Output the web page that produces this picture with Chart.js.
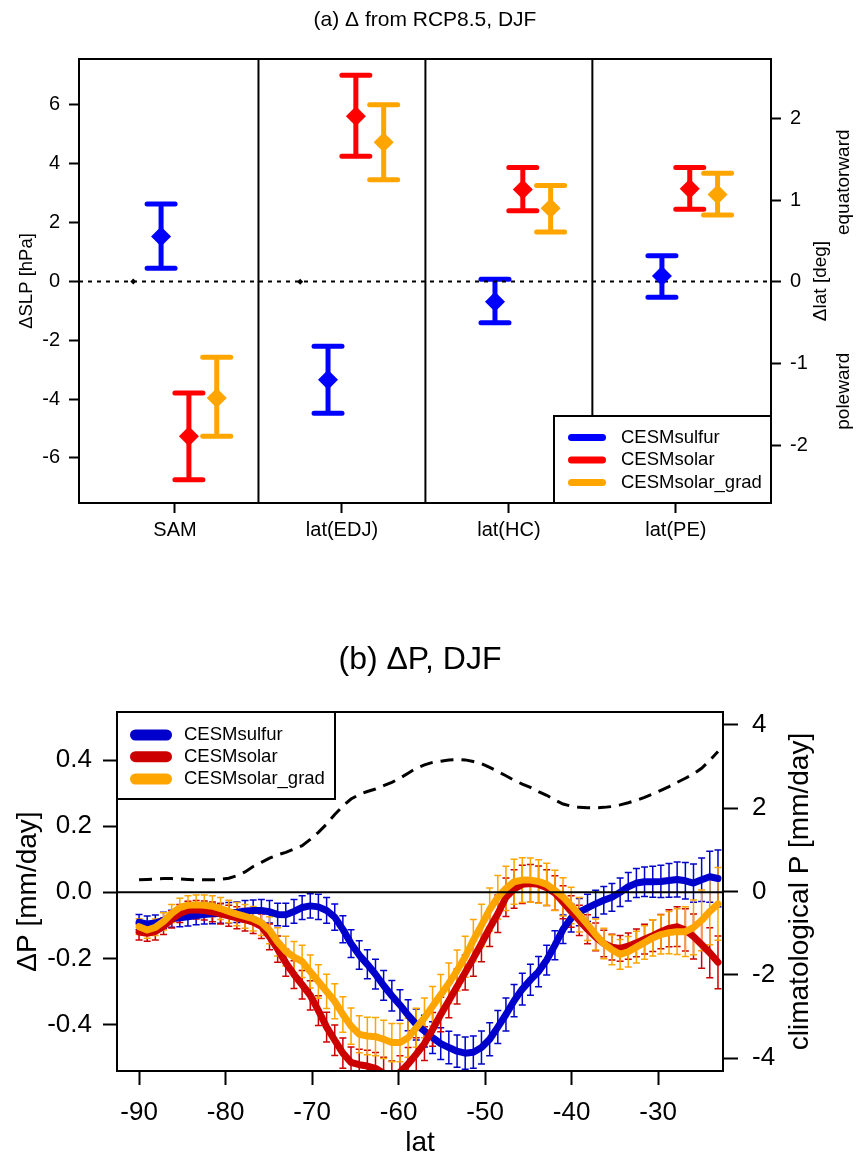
<!DOCTYPE html>
<html lang="en">
<head>
<meta charset="UTF-8">
<title>Delta from RCP8.5, DJF</title>
<script src="https://cdn.jsdelivr.net/npm/chart.js"></script>
<style>
  body { margin: 0; background: #fff; }
  #wrap { position: relative; width: 860px; height: 1157px; }
  canvas { position: absolute; left: 0; }
</style>
</head>
<body>
<div id="wrap">
  <canvas id="chartA" width="860" height="560" style="top:0"></canvas>
  <canvas id="chartB" width="860" height="597" style="top:560px"></canvas>
</div>
<script>
// ---------- panel (a) ----------
const groups = ['SAM', 'lat(EDJ)', 'lat(HC)', 'lat(PE)'];
const seriesNames = ['CESMsulfur', 'CESMsolar', 'CESMsolar_grad'];
// SAM in hPa (left axis), the lat() groups in deg (right axis)
const sulfurMid = [1.53, -1.20, -0.245, 0.07];
const sulfurLo  = [0.45, -1.61, -0.50, -0.19];
const sulfurHi  = [2.63, -0.79, 0.03, 0.32];
const solarMid  = [-5.26, 2.03, 1.13, 1.14];
const solarLo   = [-6.74, 1.54, 0.87, 0.89];
const solarHi   = [-3.79, 2.53, 1.40, 1.40];
const gradMid   = [-3.96, 1.71, 0.90, 1.07];
const gradLo    = [-5.26, 1.25, 0.61, 0.82];
const gradHi    = [-2.58, 2.17, 1.18, 1.33];
const refMid    = [0, 0, null, null];
const slpTicks = [-6, -4, -2, 0, 2, 4, 6];
const dlatTicks = [-2, -1, 0, 1, 2];

// ---------- panel (b) ----------
const lat = [
  -90.00, -89.06, -88.12, -87.17, -86.23, -85.29, -84.35, -83.40, -82.46, -81.52,
  -80.58, -79.63, -78.69, -77.75, -76.81, -75.86, -74.92, -73.98, -73.04, -72.09,
  -71.15, -70.21, -69.27, -68.32, -67.38, -66.44, -65.50, -64.55, -63.61, -62.67,
  -61.73, -60.78, -59.84, -58.90, -57.96, -57.01, -56.07, -55.13, -54.19, -53.24,
  -52.30, -51.36, -50.42, -49.47, -48.53, -47.59, -46.65, -45.70, -44.76, -43.82,
  -42.88, -41.93, -40.99, -40.05, -39.11, -38.16, -37.22, -36.28, -35.34, -34.39,
  -33.45, -32.51, -31.57, -30.62, -29.68, -28.74, -27.80, -26.85, -25.91, -24.97,
  -24.03, -23.08
];
const sulfurP = [
  -0.090, -0.096, -0.093, -0.085, -0.080, -0.077, -0.074, -0.070, -0.067, -0.065,
  -0.064, -0.062, -0.060, -0.057, -0.055, -0.055, -0.059, -0.067, -0.068, -0.058,
  -0.046, -0.041, -0.044, -0.055, -0.075, -0.112, -0.155, -0.190, -0.218, -0.248,
  -0.282, -0.313, -0.341, -0.372, -0.400, -0.420, -0.440, -0.458, -0.470, -0.481,
  -0.487, -0.484, -0.470, -0.445, -0.408, -0.370, -0.328, -0.293, -0.265, -0.240,
  -0.205, -0.160, -0.112, -0.078, -0.060, -0.047, -0.035, -0.024, -0.015, 0.000,
  0.017, 0.028, 0.032, 0.032, 0.033, 0.036, 0.039, 0.035, 0.028, 0.038,
  0.047, 0.042
];
const sulfurErr = [
  0.023, 0.024, 0.024, 0.025, 0.026, 0.027, 0.028, 0.028, 0.029, 0.030,
  0.030, 0.031, 0.031, 0.032, 0.032, 0.033, 0.034, 0.034, 0.035, 0.036,
  0.036, 0.037, 0.038, 0.039, 0.040, 0.041, 0.042, 0.043, 0.044, 0.045,
  0.045, 0.046, 0.046, 0.047, 0.047, 0.048, 0.048, 0.048, 0.049, 0.049,
  0.049, 0.049, 0.050, 0.050, 0.050, 0.050, 0.049, 0.048, 0.047, 0.046,
  0.045, 0.044, 0.043, 0.042, 0.041, 0.041, 0.041, 0.042, 0.042, 0.043,
  0.043, 0.044, 0.045, 0.047, 0.049, 0.051, 0.053, 0.055, 0.058, 0.066,
  0.077, 0.086
];
const solarP = [
  -0.120, -0.124, -0.119, -0.103, -0.082, -0.064, -0.054, -0.053, -0.055, -0.059,
  -0.065, -0.071, -0.077, -0.083, -0.090, -0.103, -0.135, -0.172, -0.213, -0.249,
  -0.280, -0.312, -0.358, -0.408, -0.448, -0.487, -0.515, -0.522, -0.526, -0.533,
  -0.548, -0.560, -0.545, -0.520, -0.490, -0.458, -0.415, -0.370, -0.328, -0.285,
  -0.243, -0.200, -0.155, -0.108, -0.065, -0.015, 0.010, 0.024, 0.027, 0.024,
  0.014, -0.002, -0.030, -0.058, -0.085, -0.112, -0.135, -0.155, -0.166, -0.170,
  -0.163, -0.153, -0.142, -0.131, -0.119, -0.109, -0.104, -0.114, -0.134, -0.158,
  -0.183, -0.212
];
const solarErr = [
  0.024, 0.024, 0.025, 0.025, 0.026, 0.027, 0.027, 0.028, 0.029, 0.030,
  0.031, 0.032, 0.033, 0.034, 0.035, 0.037, 0.039, 0.040, 0.041, 0.042,
  0.043, 0.044, 0.045, 0.045, 0.046, 0.046, 0.047, 0.047, 0.048, 0.048,
  0.049, 0.049, 0.050, 0.050, 0.050, 0.051, 0.051, 0.052, 0.052, 0.053,
  0.053, 0.054, 0.055, 0.056, 0.057, 0.058, 0.058, 0.058, 0.057, 0.056,
  0.054, 0.052, 0.050, 0.048, 0.046, 0.044, 0.042, 0.040, 0.039, 0.039,
  0.040, 0.042, 0.045, 0.048, 0.052, 0.056, 0.060, 0.064, 0.068, 0.072,
  0.076, 0.080
];
const gradP = [
  -0.104, -0.114, -0.106, -0.088, -0.064, -0.046, -0.039, -0.038, -0.039, -0.042,
  -0.049, -0.058, -0.066, -0.073, -0.080, -0.092, -0.115, -0.150, -0.178, -0.196,
  -0.209, -0.240, -0.270, -0.300, -0.330, -0.370, -0.405, -0.430, -0.435, -0.437,
  -0.445, -0.455, -0.455, -0.440, -0.410, -0.380, -0.345, -0.310, -0.275, -0.237,
  -0.195, -0.145, -0.100, -0.052, -0.015, 0.012, 0.032, 0.037, 0.037, 0.033,
  0.024, 0.006, -0.014, -0.040, -0.068, -0.097, -0.128, -0.155, -0.174, -0.188,
  -0.180, -0.166, -0.152, -0.138, -0.128, -0.122, -0.119, -0.119, -0.106, -0.085,
  -0.058, -0.035
];
const gradErr = [
  0.024, 0.025, 0.025, 0.026, 0.027, 0.028, 0.029, 0.030, 0.031, 0.032,
  0.033, 0.034, 0.035, 0.036, 0.037, 0.039, 0.041, 0.043, 0.045, 0.047,
  0.049, 0.050, 0.051, 0.052, 0.053, 0.054, 0.055, 0.056, 0.057, 0.058,
  0.058, 0.058, 0.058, 0.059, 0.059, 0.060, 0.060, 0.061, 0.061, 0.062,
  0.062, 0.063, 0.064, 0.065, 0.066, 0.067, 0.068, 0.068, 0.067, 0.066,
  0.064, 0.061, 0.058, 0.055, 0.052, 0.049, 0.047, 0.046, 0.045, 0.045,
  0.046, 0.048, 0.051, 0.055, 0.059, 0.064, 0.069, 0.075, 0.083, 0.092,
  0.101, 0.110
];
// climatological precipitation (right axis)
const climP = [
  0.28, 0.29, 0.30, 0.31, 0.31, 0.30, 0.29, 0.28, 0.28, 0.28,
  0.29, 0.32, 0.38, 0.47, 0.60, 0.70, 0.80, 0.88, 0.94, 1.02,
  1.10, 1.25, 1.42, 1.62, 1.85, 2.05, 2.22, 2.33, 2.40, 2.46,
  2.54, 2.62, 2.72, 2.84, 2.96, 3.04, 3.10, 3.13, 3.16, 3.17,
  3.16, 3.12, 3.07, 2.98, 2.88, 2.78, 2.67, 2.58, 2.50, 2.40,
  2.31, 2.20, 2.10, 2.05, 2.02, 2.01, 2.01, 2.02, 2.04, 2.08,
  2.13, 2.19, 2.26, 2.34, 2.43, 2.52, 2.62, 2.72, 2.82, 2.96,
  3.15, 3.36
];
const latTicks = [-90, -80, -70, -60, -50, -40, -30];
const dpTicks = [-0.4, -0.2, 0, 0.2, 0.4];
const climTicks = [-4, -2, 0, 2, 4];

const FONT = "'Liberation Sans', Arial, Helvetica, sans-serif";
Chart.defaults.font.family = FONT;
Chart.defaults.color = '#000';

const colorsA = ['#0000FF', '#FF0000', '#FFA500'];
const colorsB = ['#0000CD', '#CD0000', '#FFA500'];

// error bars drawn through each dataset's own scales
const errorBars = {
  id: 'errorBars',
  beforeDatasetsDraw(chart, args, opts) {
    const { ctx, chartArea: a } = chart;
    ctx.save();
    ctx.beginPath();
    ctx.rect(a.left, a.top, a.right - a.left, a.bottom - a.top);
    ctx.clip();
    ctx.lineWidth = opts.width;
    ctx.lineCap = opts.lineCap;
    chart.data.datasets.forEach(ds => {
      if (!ds.errLow) return;
      const xs = chart.scales.x;
      const ys = chart.scales[ds.yAxisID];
      ctx.strokeStyle = ds.borderColor;
      ds.data.forEach((p, j) => {
        const px = xs.getPixelForValue(p.x);
        const lo = ys.getPixelForValue(ds.errLow[j]);
        const hi = ys.getPixelForValue(ds.errHigh[j]);
        ctx.beginPath();
        ctx.moveTo(px, lo); ctx.lineTo(px, hi);
        ctx.moveTo(px - opts.capHalf, lo); ctx.lineTo(px + opts.capHalf, lo);
        ctx.moveTo(px - opts.capHalf, hi); ctx.lineTo(px + opts.capHalf, hi);
        ctx.stroke();
      });
    });
    ctx.restore();
  }
};

function drawLegend(ctx, box, names, colors, st) {
  ctx.save();
  ctx.fillStyle = '#fff';
  ctx.fillRect(box.x, box.y, box.w, box.h);
  ctx.strokeStyle = '#000';
  ctx.lineWidth = 2;
  ctx.strokeRect(box.x, box.y, box.w, box.h);
  ctx.font = st.font;
  ctx.textAlign = 'left';
  ctx.textBaseline = 'middle';
  names.forEach((name, i) => {
    const yy = box.y + st.rows[i];
    ctx.strokeStyle = colors[i];
    ctx.lineWidth = st.swatch;
    ctx.lineCap = 'round';
    ctx.beginPath();
    ctx.moveTo(box.x + st.sw0, yy);
    ctx.lineTo(box.x + st.sw1, yy);
    ctx.stroke();
    ctx.fillStyle = '#000';
    ctx.fillText(name, box.x + st.textX, yy);
  });
  ctx.restore();
}

// rotated text reading bottom to top, like R's side-4 labels here
function vText(ctx, text, x, y) {
  ctx.save();
  ctx.translate(x, y);
  ctx.rotate(-Math.PI / 2);
  ctx.fillText(text, 0, 0);
  ctx.restore();
}

const frameA = {
  id: 'frameA',
  beforeDatasetsDraw(chart) {
    const { ctx, chartArea: a, scales: { x, y } } = chart;
    ctx.save();
    ctx.strokeStyle = '#000';
    ctx.lineWidth = 2;
    for (let i = 1; i < groups.length; i++) {
      const px = x.getPixelForValue(i + 0.5);
      ctx.beginPath(); ctx.moveTo(px, a.top); ctx.lineTo(px, a.bottom); ctx.stroke();
    }
    const y0 = y.getPixelForValue(0);
    ctx.setLineDash([4, 5]);
    ctx.beginPath(); ctx.moveTo(a.left, y0); ctx.lineTo(a.right, y0); ctx.stroke();
    ctx.restore();
  },
  afterDraw(chart) {
    const { ctx, chartArea: a, scales: { y2 } } = chart;
    ctx.save();
    ctx.strokeStyle = '#000';
    ctx.lineWidth = 2;
    ctx.strokeRect(a.left, a.top, a.right - a.left, a.bottom - a.top);
    ctx.fillStyle = '#000';
    ctx.textAlign = 'center';
    ctx.textBaseline = 'middle';
    ctx.font = '21px ' + FONT;
    ctx.fillText('(a) \u0394 from RCP8.5, DJF', (a.left + a.right) / 2, 20);
    ctx.font = '19px ' + FONT;
    vText(ctx, '\u0394lat [deg]', 821, (a.top + a.bottom) / 2);
    vText(ctx, 'equatorward', 844, y2.getPixelForValue(1.22));
    vText(ctx, 'poleward', 844, y2.getPixelForValue(-1.34));
    ctx.restore();
    drawLegend(ctx, { x: a.right - 217, y: a.bottom - 87, w: 217, h: 87 }, seriesNames, colorsA,
      { font: '18.5px ' + FONT, rows: [21.5, 44, 66.5], swatch: 7, sw0: 17.5, sw1: 48.5, textX: 67 });
  }
};

function groupSets(mid, lo, hi, color, slot, radius) {
  const off = (slot - 1.5) / 6;
  const base = {
    backgroundColor: color, borderColor: color, pointStyle: 'rectRot',
    pointRadius: radius, pointBorderWidth: 0, clip: false
  };
  const sam = [0];
  const lats = [1, 2, 3].filter(i => mid[i] !== null);
  const make = (idx, axis) => ({
    ...base, yAxisID: axis,
    data: idx.map(i => ({ x: i + 1 + off, y: mid[i] })),
    errLow: lo ? idx.map(i => lo[i]) : null,
    errHigh: hi ? idx.map(i => hi[i]) : null
  });
  return [make(sam, 'y'), make(lats, 'y2')];
}

const setsA = [
  ...groupSets(refMid, null, null, '#000', 0, 3),
  ...groupSets(sulfurMid, sulfurLo, sulfurHi, colorsA[0], 1, 10),
  ...groupSets(solarMid, solarLo, solarHi, colorsA[1], 2, 10),
  ...groupSets(gradMid, gradLo, gradHi, colorsA[2], 3, 10)
];

const tickGrid = (len) => ({ drawOnChartArea: false, tickLength: len, tickWidth: 2, tickColor: '#000' });

new Chart(document.getElementById('chartA'), {
  type: 'scatter',
  data: { datasets: setsA },
  options: {
    responsive: false,
    animation: false,
    events: [],
    layout: { padding: { top: 59, left: 0, right: 0, bottom: 0 } },
    plugins: {
      legend: { display: false },
      tooltip: { enabled: false },
      errorBars: { width: 5, capHalf: 14, lineCap: 'round' }
    },
    scales: {
      x: {
        type: 'linear', min: 0.425, max: 4.57,
        afterBuildTicks: s => { s.ticks = groups.map((g, i) => ({ value: i + 1 })); },
        afterFit: s => { s.height = 57; },
        ticks: { callback: v => groups[v - 1], font: { size: 20 }, padding: 5, maxRotation: 0, autoSkip: false },
        grid: tickGrid(10),
        border: { display: false }
      },
      y: {
        type: 'linear', position: 'left', min: -7.53, max: 7.56,
        afterBuildTicks: s => { s.ticks = slpTicks.map(v => ({ value: v })); },
        afterFit: s => { s.width = 79; },
        ticks: { callback: v => String(v), font: { size: 20 }, padding: 9 },
        grid: tickGrid(10),
        border: { display: false },
        title: { display: true, text: '\u0394SLP [hPa]', font: { size: 18.5, lineHeight: 1 }, padding: { top: 18, bottom: 0 } }
      },
      y2: {
        type: 'linear', position: 'right', min: -2.71, max: 2.73,
        afterBuildTicks: s => { s.ticks = dlatTicks.map(v => ({ value: v })); },
        afterFit: s => { s.width = 89; },
        ticks: { callback: v => String(v), font: { size: 20 }, padding: 9 },
        grid: tickGrid(10),
        border: { display: false }
      }
    }
  },
  plugins: [errorBars, frameA]
});

// ---------- panel (b) chart ----------
const frameB = {
  id: 'frameB',
  afterDatasetsDraw(chart) {
    const { ctx, chartArea: a, scales: { y } } = chart;
    const y0 = y.getPixelForValue(0);
    ctx.save();
    ctx.strokeStyle = '#000';
    ctx.lineWidth = 2;
    ctx.beginPath(); ctx.moveTo(a.left, y0); ctx.lineTo(a.right, y0); ctx.stroke();
    ctx.restore();
  },
  afterDraw(chart) {
    const { ctx, chartArea: a } = chart;
    ctx.save();
    ctx.strokeStyle = '#000';
    ctx.lineWidth = 2;
    ctx.strokeRect(a.left, a.top, a.right - a.left, a.bottom - a.top);
    ctx.fillStyle = '#000';
    ctx.textAlign = 'center';
    ctx.textBaseline = 'middle';
    ctx.font = '32px ' + FONT;
    ctx.fillText('(b) \u0394P, DJF', (a.left + a.right) / 2, 100);
    ctx.font = '28px ' + FONT;
    vText(ctx, 'climatological P [mm/day]', 800, (a.top + a.bottom) / 2);
    ctx.restore();
    drawLegend(ctx, { x: a.left, y: a.top, w: 218, h: 87 }, seriesNames, colorsB,
      { font: '18.5px ' + FONT, rows: [23, 44.7, 67], swatch: 11, sw0: 18.5, sw1: 49.5, textX: 67 });
  }
};

const pVals = [sulfurP, solarP, gradP];
const pErrs = [sulfurErr, solarErr, gradErr];
const setsB = [{
  label: 'climatological P',
  data: lat.map((v, i) => ({ x: v, y: climP[i] })),
  yAxisID: 'y2',
  borderColor: '#000',
  borderWidth: 3,
  borderDash: [13, 8],
  pointRadius: 0,
  clip: 0,
  order: 3
}];
seriesNames.forEach((name, s) => {
  setsB.push({
    label: name,
    data: lat.map((v, i) => ({ x: v, y: pVals[s][i] })),
    errLow: pVals[s].map((v, i) => v - pErrs[s][i]),
    errHigh: pVals[s].map((v, i) => v + pErrs[s][i]),
    yAxisID: 'y',
    borderColor: colorsB[s],
    borderWidth: 7,
    borderCapStyle: 'round',
    borderJoinStyle: 'round',
    pointRadius: 0,
    clip: 0,
    order: 2 - s
  });
});

new Chart(document.getElementById('chartB'), {
  type: 'line',
  data: { datasets: setsB },
  options: {
    responsive: false,
    animation: false,
    events: [],
    layout: { padding: { top: 152, left: 0, right: 0, bottom: 0 } },
    plugins: {
      legend: { display: false },
      tooltip: { enabled: false },
      errorBars: { width: 1.5, capHalf: 3.5, lineCap: 'butt' }
    },
    scales: {
      x: {
        type: 'linear', min: -92.55, max: -22.5,
        afterBuildTicks: s => { s.ticks = latTicks.map(v => ({ value: v })); },
        afterFit: s => { s.height = 86; },
        ticks: { callback: v => String(v), font: { size: 26 }, padding: 12, maxRotation: 0, autoSkip: false },
        grid: tickGrid(14),
        border: { display: false },
        title: { display: true, text: 'lat', font: { size: 28, lineHeight: 1 }, padding: { top: 0, bottom: 0 } }
      },
      y: {
        type: 'linear', position: 'left', min: -0.541, max: 0.546,
        afterBuildTicks: s => { s.ticks = dpTicks.map(v => ({ value: v })); },
        afterFit: s => { s.width = 117; },
        ticks: { callback: v => v.toFixed(1), font: { size: 26 }, padding: 11 },
        grid: tickGrid(14),
        border: { display: false },
        title: { display: true, text: '\u0394P [mm/day]', font: { size: 28, lineHeight: 1 }, padding: { top: 14, bottom: 0 } }
      },
      y2: {
        type: 'linear', position: 'right', min: -4.31, max: 4.31,
        afterBuildTicks: s => { s.ticks = climTicks.map(v => ({ value: v })); },
        afterFit: s => { s.width = 137; },
        ticks: { callback: v => String(v), font: { size: 26 }, padding: 14 },
        grid: tickGrid(15),
        border: { display: false }
      }
    }
  },
  plugins: [errorBars, frameB]
});
</script>
</body>
</html>
